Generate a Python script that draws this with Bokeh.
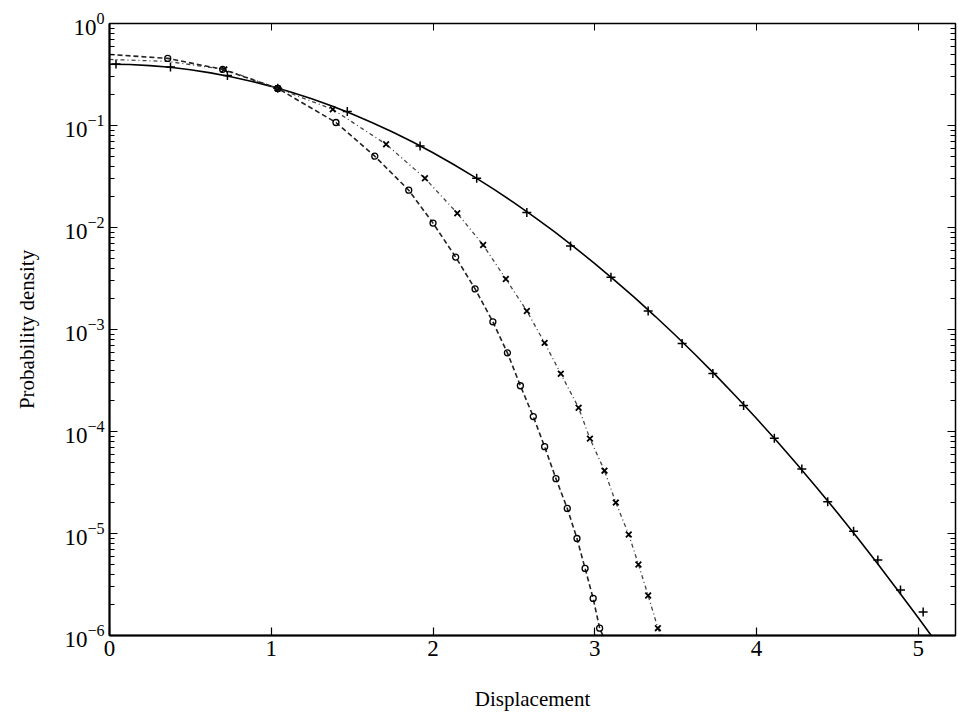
from bokeh.plotting import figure
from bokeh.models import LogAxis, LinearAxis, Range1d, FixedTicker, LogTicker, CustomJSTickFormatter
from bokeh.embed import file_html
from bokeh.resources import INLINE

# ---- data ----
# solid curve (Gaussian-like)
solid_x = [0.0, 0.125, 0.25, 0.375, 0.5, 0.625, 0.75, 0.875, 1.0, 1.125, 1.25, 1.375,
           1.5, 1.625, 1.75, 1.875, 2.0, 2.125, 2.25, 2.375, 2.5, 2.625, 2.75, 2.875,
           3.0, 3.125, 3.25, 3.375, 3.5, 3.625, 3.75, 3.875, 4.0, 4.125, 4.25, 4.375,
           4.5, 4.625, 4.75, 4.875, 5.0, 5.08]
solid_y = [0.3989, 0.3958, 0.3867, 0.3719, 0.3521, 0.3282, 0.3011, 0.2720, 0.2420,
           0.2119, 0.1827, 0.1551, 0.1295, 0.1065, 0.0863, 0.0688, 0.0540, 0.0417,
           0.0317, 0.0238, 0.0175, 0.0127, 0.00909, 0.00640, 0.00443, 0.00302,
           0.00203, 0.00134, 8.73e-4, 5.59e-4, 3.53e-4, 2.19e-4, 1.34e-4, 8.06e-5,
           4.77e-5, 2.78e-5, 1.60e-5, 9.04e-6, 5.03e-6, 2.75e-6, 1.49e-6, 1.0e-6]
plus_x = [0.04, 0.377, 0.729, 1.04, 1.47, 1.92, 2.27, 2.58, 2.85, 3.10, 3.33, 3.54,
          3.73, 3.92, 4.11, 4.28, 4.44, 4.60, 4.75, 4.89, 5.03]
plus_y = [0.40, 0.375, 0.31, 0.232, 0.137, 0.0628, 0.0304, 0.0140, 0.0066, 0.00325,
          0.00152, 7.3e-4, 3.7e-4, 1.8e-4, 8.6e-5, 4.3e-5, 2.05e-5, 1.05e-5, 5.5e-6,
          2.8e-6, 1.7e-6]

# dash-dot curve with 'x' markers
xcurve_x = [0.0, 0.36, 0.71, 1.04, 1.38, 1.71, 1.95, 2.15, 2.31, 2.45, 2.58, 2.69,
            2.79, 2.90, 2.97, 3.06, 3.13, 3.21, 3.27, 3.33, 3.39, 3.41]
xcurve_y = [0.444, 0.425, 0.355, 0.231, 0.144, 0.0655, 0.0304, 0.0138, 0.00673,
            0.00313, 0.00152, 7.39e-4, 3.68e-4, 1.71e-4, 8.51e-5, 4.13e-5, 2.01e-5,
            9.77e-6, 4.97e-6, 2.47e-6, 1.18e-6, 1.0e-6]
xmark_x = [0.71, 1.04, 1.38, 1.71, 1.95, 2.15, 2.31, 2.45, 2.58, 2.69, 2.79, 2.90,
           2.97, 3.06, 3.13, 3.21, 3.27, 3.33, 3.39]
xmark_y = [0.355, 0.231, 0.144, 0.0655, 0.0304, 0.0138, 0.00673, 0.00313, 0.00152,
           7.39e-4, 3.68e-4, 1.71e-4, 8.51e-5, 4.13e-5, 2.01e-5, 9.77e-6, 4.97e-6,
           2.47e-6, 1.18e-6]

# dashed curve with 'o' markers
ocurve_x = [0.0, 0.36, 0.70, 1.04, 1.40, 1.64, 1.85, 2.00, 2.14, 2.26, 2.37, 2.46,
            2.54, 2.62, 2.69, 2.76, 2.83, 2.89, 2.94, 2.99, 3.03, 3.05]
ocurve_y = [0.497, 0.455, 0.355, 0.231, 0.107, 0.050, 0.0232, 0.01104, 0.00513,
            0.00250, 0.00119, 5.90e-4, 2.81e-4, 1.40e-4, 7.10e-5, 3.45e-5, 1.76e-5,
            8.93e-6, 4.55e-6, 2.31e-6, 1.18e-6, 1.0e-6]
omark_x = ocurve_x[1:-1]
omark_y = ocurve_y[1:-1]

x_ticks = [0, 1, 2, 3, 4, 5]

FONT = "Liberation Serif"

p = figure(width=958, height=723, x_range=Range1d(0, 5.23), y_range=Range1d(1e-6, 1),
           y_axis_type="log", output_backend="svg", toolbar_location=None,
           min_border_left=109, min_border_right=3, min_border_top=23, min_border_bottom=88)
p.outline_line_color = "black"
p.outline_line_width = 1.5
p.xgrid.grid_line_color = None
p.ygrid.grid_line_color = None
p.background_fill_color = "white"
p.border_fill_color = "white"

# curves
p.line(solid_x, solid_y, line_color="black", line_width=1.6)
p.scatter(plus_x, plus_y, marker="cross", size=9, line_color="black", line_width=1.5)

p.line(xcurve_x, xcurve_y, line_color="#444444", line_width=1.3, line_dash="4 3 1 3")
p.scatter(xmark_x, xmark_y, marker="x", size=8, line_color="black", line_width=1.8)

p.line(ocurve_x, ocurve_y, line_color="#222222", line_width=1.6, line_dash="5 3")
p.scatter(omark_x, omark_y, marker="circle", size=6, fill_color=None,
          line_color="black", line_width=1.3)

# main axes
xa = p.xaxis[0]
xa.ticker = FixedTicker(ticks=x_ticks)
xa.axis_label = "Displacement"
xa.minor_tick_line_color = None
ya = p.yaxis[0]
ya.axis_label = "Probability density"
ya.ticker = LogTicker(num_minor_ticks=10)

for ax in (xa, ya):
    ax.major_tick_in = 8
    ax.major_tick_out = 0
    ax.minor_tick_in = 5
    ax.minor_tick_out = 0
    ax.axis_line_width = 2
    ax.major_tick_line_width = 1.2
    ax.major_label_text_font = FONT
    ax.major_label_text_font_size = "23px"
    ax.major_label_text_color = "black"
    ax.axis_label_text_font = FONT
    ax.axis_label_text_font_size = "21px"
    ax.axis_label_text_font_style = "normal"
    ax.axis_label_text_color = "black"

xa.major_label_standoff = 5
xa.axis_label_standoff = 28
ya.major_label_standoff = 5
ya.axis_label_standoff = 22

# top and right decorative axes (ticks only)
blank = CustomJSTickFormatter(code="return ''")
top = LinearAxis(ticker=FixedTicker(ticks=x_ticks), formatter=blank)
top.major_tick_in = 7
top.major_tick_out = 0
top.minor_tick_line_color = None
top.axis_line_color = None
top.major_label_standoff = 0
p.add_layout(top, "above")

right = LogAxis(ticker=LogTicker(num_minor_ticks=10), formatter=blank)
right.major_tick_in = 8
right.major_tick_out = 0
right.minor_tick_in = 5
right.minor_tick_out = 0
right.axis_line_color = None
right.major_label_standoff = 0
p.add_layout(right, "right")

open("out.html", "w").write(file_html(p, INLINE))
